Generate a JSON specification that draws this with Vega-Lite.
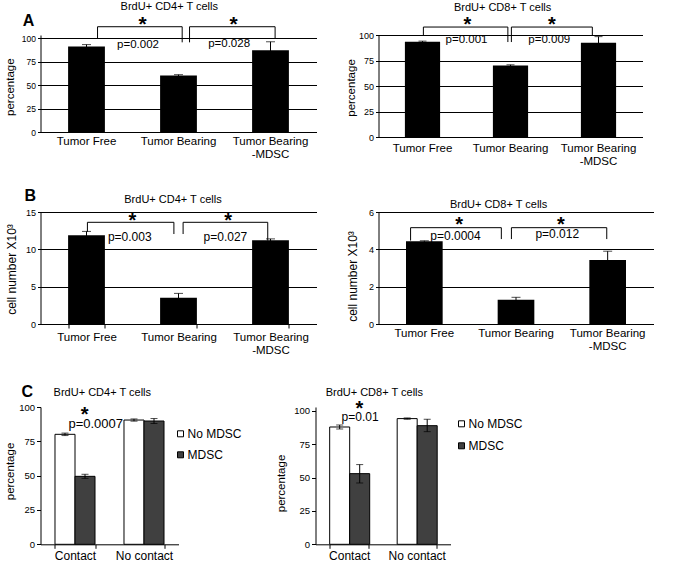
{
 "$schema": "https://vega.github.io/schema/vega-lite/v6.json",
 "autosize": {"type": "pad"},
 "padding": {"left": 4.5, "top": 0, "right": 0, "bottom": 0},
 "config": {
  "font": "Liberation Sans",
  "view": {"stroke": null},
  "text": {"color": "black"},
  "axis": {"domainColor": "black", "tickColor": "black", "labelColor": "black", "titleColor": "black", "titleFontWeight": "normal", "gridColor": "black"},
  "axisY": {"titleBaseline": "alphabetic"}
 },
 "columns": 3,
 "align": "each",
 "bounds": "flush",
 "spacing": {"row": 75, "column": 0},
 "resolve": {"scale": {"color": "independent"}},
 "concat": [
  {
   "width": 276, "height": 97,
   "resolve": {"scale": {"x": "independent"}},
   "layer": [
    {
     "data": {"values": [
      {"cat": "Tumor Free", "value": 91, "lo": 89, "hi": 93},
      {"cat": "Tumor Bearing", "value": 60, "lo": 59, "hi": 61},
      {"cat": "Tumor Bearing -MDSC", "value": 87, "lo": 78, "hi": 96}
     ]},
     "encoding": {"x": {"field": "cat", "type": "nominal", "sort": null, "scale": {"paddingInner": 0.6, "paddingOuter": 0.3},
       "axis": {"title": null, "ticks": false, "labelAngle": 0, "labelFontSize": 11.5, "labelPadding": 3, "labelLineHeight": 13, "labelOverlap": false,
         "labelExpr": "datum.value == 'Tumor Bearing -MDSC' ? ['Tumor Bearing', '-MDSC'] : datum.label"}}},
     "layer": [
      {"mark": {"type": "bar", "fill": "black"},
       "encoding": {"y": {"field": "value", "type": "quantitative", "scale": {"domain": [0, 103.2], "nice": false},
         "axis": {"title": "percentage", "values": [0, 25, 50, 75, 100], "grid": true, "tickSize": 3, "labelFontSize": 8.5, "labelPadding": 2, "titleFontSize": 11.5, "titleX": -27, "titleY": 51.7}}}},
      {"mark": {"type": "rule", "color": "black"},
       "encoding": {"y": {"field": "lo", "type": "quantitative", "scale": {"domain": [0, 103.2], "nice": false},
         "axis": {"title": "percentage", "values": [0, 25, 50, 75, 100], "grid": true, "tickSize": 3, "labelFontSize": 8.5, "labelPadding": 2, "titleFontSize": 11.5, "titleX": -27, "titleY": 51.7}}, "y2": {"field": "hi"}}},
      {"mark": {"type": "tick", "color": "black", "size": 9, "thickness": 1},
       "encoding": {"y": {"field": "hi", "type": "quantitative", "scale": {"domain": [0, 103.2], "nice": false},
         "axis": {"title": "percentage", "values": [0, 25, 50, 75, 100], "grid": true, "tickSize": 3, "labelFontSize": 8.5, "labelPadding": 2, "titleFontSize": 11.5, "titleX": -27, "titleY": 51.7}}}}
     ]
    },
    {
     "encoding": {"x": {"field": "u", "type": "quantitative", "scale": {"domain": [0, 3], "nice": false, "zero": false}, "axis": null},
                  "y": {"field": "v", "type": "quantitative", "scale": {"domain": [0, 103.2], "nice": false},
                    "axis": {"title": "percentage", "values": [0, 25, 50, 75, 100], "grid": true, "tickSize": 3, "labelFontSize": 8.5, "labelPadding": 2, "titleFontSize": 11.5, "titleX": -27, "titleY": 51.7}}},
     "layer": [
      {"data": {"values": [
        {"b": 1, "k": 1, "u": 0.62, "v": 100}, {"b": 1, "k": 2, "u": 0.62, "v": 112}, {"b": 1, "k": 3, "u": 1.54, "v": 112}, {"b": 1, "k": 4, "u": 1.54, "v": 95.4},
        {"b": 2, "k": 1, "u": 1.62, "v": 95.4}, {"b": 2, "k": 2, "u": 1.62, "v": 112}, {"b": 2, "k": 3, "u": 2.55, "v": 112}, {"b": 2, "k": 4, "u": 2.55, "v": 100}]},
       "mark": {"type": "line", "color": "black", "strokeWidth": 1},
       "encoding": {"detail": {"field": "b", "type": "nominal"}, "order": {"field": "k", "type": "quantitative"}}},
      {"data": {"values": [{"u": 1.11, "v": 113.8, "t": "*"}, {"u": 2.10, "v": 113.8, "t": "*"}]},
       "mark": {"type": "text", "fontSize": 21, "fontWeight": "bold", "baseline": "middle"},
       "encoding": {"text": {"field": "t", "type": "nominal"}}},
      {"data": {"values": [{"u": 1.06, "v": 92.6, "t": "p=0.002"}, {"u": 2.05, "v": 93.6, "t": "p=0.028"}]},
       "mark": {"type": "text", "fontSize": 11.5, "baseline": "middle"},
       "encoding": {"text": {"field": "t", "type": "nominal"}}},
      {"data": {"values": [{"u": 1.40, "v": 133, "t": "BrdU+ CD4+ T cells"}]},
       "mark": {"type": "text", "fontSize": 11, "baseline": "middle"},
       "encoding": {"text": {"field": "t", "type": "nominal"}}},
      {"data": {"values": [{"u": -0.13, "v": 118.1, "t": "A"}]},
       "mark": {"type": "text", "fontSize": 16, "fontWeight": "bold", "baseline": "middle"},
       "encoding": {"text": {"field": "t", "type": "nominal"}}}
     ]
    }
   ]
  },
  {"width": 62, "height": 1, "data": {"values": []}, "mark": "point"},
  {
   "width": 264, "height": 102,
   "resolve": {"scale": {"x": "independent"}},
   "layer": [
    {
     "data": {"values": [
      {"cat": "Tumor Free", "value": 93.3, "lo": 92.6, "hi": 94},
      {"cat": "Tumor Bearing", "value": 70.2, "lo": 69.6, "hi": 70.8},
      {"cat": "Tumor Bearing -MDSC", "value": 92.4, "lo": 86.4, "hi": 98.4}
     ]},
     "encoding": {"x": {"field": "cat", "type": "nominal", "sort": null, "scale": {"paddingInner": 0.6, "paddingOuter": 0.3},
       "axis": {"title": null, "ticks": false, "labelAngle": 0, "labelFontSize": 11.5, "labelPadding": 5, "labelLineHeight": 13, "labelOverlap": false,
         "labelExpr": "datum.value == 'Tumor Bearing -MDSC' ? ['Tumor Bearing', '-MDSC'] : datum.label"}}},
     "layer": [
      {"mark": {"type": "bar", "fill": "black"},
       "encoding": {"y": {"field": "value", "type": "quantitative", "scale": {"domain": [0, 100], "nice": false},
         "axis": {"title": "percentage", "values": [0, 25, 50, 75, 100], "grid": true, "tickSize": 3, "labelFontSize": 9, "labelPadding": 2, "titleFontSize": 11.5, "titleX": -24, "titleY": 52.5}}}},
      {"mark": {"type": "rule", "color": "black"},
       "encoding": {"y": {"field": "lo", "type": "quantitative", "scale": {"domain": [0, 100], "nice": false},
         "axis": {"title": "percentage", "values": [0, 25, 50, 75, 100], "grid": true, "tickSize": 3, "labelFontSize": 9, "labelPadding": 2, "titleFontSize": 11.5, "titleX": -24, "titleY": 52.5}}, "y2": {"field": "hi"}}},
      {"mark": {"type": "tick", "color": "black", "size": 8, "thickness": 1},
       "encoding": {"y": {"field": "hi", "type": "quantitative", "scale": {"domain": [0, 100], "nice": false},
         "axis": {"title": "percentage", "values": [0, 25, 50, 75, 100], "grid": true, "tickSize": 3, "labelFontSize": 9, "labelPadding": 2, "titleFontSize": 11.5, "titleX": -24, "titleY": 52.5}}}}
     ]
    },
    {
     "encoding": {"x": {"field": "u", "type": "quantitative", "scale": {"domain": [0, 3], "nice": false, "zero": false}, "axis": null},
                  "y": {"field": "v", "type": "quantitative", "scale": {"domain": [0, 100], "nice": false},
                    "axis": {"title": "percentage", "values": [0, 25, 50, 75, 100], "grid": true, "tickSize": 3, "labelFontSize": 9, "labelPadding": 2, "titleFontSize": 11.5, "titleX": -24, "titleY": 52.5}}},
     "layer": [
      {"data": {"values": [
        {"b": 1, "k": 1, "u": 0.51, "v": 100}, {"b": 1, "k": 2, "u": 0.51, "v": 107.8}, {"b": 1, "k": 3, "u": 1.47, "v": 107.8}, {"b": 1, "k": 4, "u": 1.47, "v": 93.1},
        {"b": 2, "k": 1, "u": 1.51, "v": 93.1}, {"b": 2, "k": 2, "u": 1.51, "v": 107.8}, {"b": 2, "k": 3, "u": 2.43, "v": 107.8}, {"b": 2, "k": 4, "u": 2.43, "v": 100}]},
       "mark": {"type": "line", "color": "black", "strokeWidth": 1},
       "encoding": {"detail": {"field": "b", "type": "nominal"}, "order": {"field": "k", "type": "quantitative"}}},
      {"data": {"values": [{"u": 1.01, "v": 109.8, "t": "*"}, {"u": 1.97, "v": 109.8, "t": "*"}]},
       "mark": {"type": "text", "fontSize": 20, "fontWeight": "bold", "baseline": "middle"},
       "encoding": {"text": {"field": "t", "type": "nominal"}}},
      {"data": {"values": [{"u": 1.00, "v": 95.1, "t": "p=0.001"}, {"u": 1.94, "v": 95.1, "t": "p=0.009"}]},
       "mark": {"type": "text", "fontSize": 11.5, "baseline": "middle"},
       "encoding": {"text": {"field": "t", "type": "nominal"}}},
      {"data": {"values": [{"u": 1.41, "v": 126.5, "t": "BrdU+ CD8+ T cells"}]},
       "mark": {"type": "text", "fontSize": 11, "baseline": "middle"},
       "encoding": {"text": {"field": "t", "type": "nominal"}}}
     ]
    }
   ]
  },
  {
   "width": 276, "height": 112,
   "resolve": {"scale": {"x": "independent"}},
   "layer": [
    {
     "data": {"values": [
      {"cat": "Tumor Free", "value": 11.9, "lo": 11.4, "hi": 12.4},
      {"cat": "Tumor Bearing", "value": 3.5, "lo": 2.9, "hi": 4.1},
      {"cat": "Tumor Bearing -MDSC", "value": 11.2, "lo": 11.0, "hi": 11.4}
     ]},
     "encoding": {"x": {"field": "cat", "type": "nominal", "sort": null, "scale": {"paddingInner": 0.6, "paddingOuter": 0.3},
       "axis": {"title": null, "ticks": true, "tickBand": "extent", "tickSize": 4, "labelAngle": 0, "labelFontSize": 11.5, "labelPadding": 3, "labelLineHeight": 13, "labelOverlap": false,
         "labelExpr": "datum.value == 'Tumor Bearing -MDSC' ? ['Tumor Bearing', '-MDSC'] : datum.label"}}},
     "layer": [
      {"mark": {"type": "bar", "fill": "black"},
       "encoding": {"y": {"field": "value", "type": "quantitative", "scale": {"domain": [0, 15], "nice": false},
         "axis": {"title": "cell number X10³", "values": [0, 5, 10, 15], "grid": true, "tickSize": 3, "labelFontSize": 9, "labelPadding": 2, "titleFontSize": 12, "titleX": -25, "titleY": 57}}}},
      {"mark": {"type": "rule", "color": "black"},
       "encoding": {"y": {"field": "lo", "type": "quantitative", "scale": {"domain": [0, 15], "nice": false},
         "axis": {"title": "cell number X10³", "values": [0, 5, 10, 15], "grid": true, "tickSize": 3, "labelFontSize": 9, "labelPadding": 2, "titleFontSize": 12, "titleX": -25, "titleY": 57}}, "y2": {"field": "hi"}}},
      {"mark": {"type": "tick", "color": "black", "size": 9, "thickness": 1},
       "encoding": {"y": {"field": "hi", "type": "quantitative", "scale": {"domain": [0, 15], "nice": false},
         "axis": {"title": "cell number X10³", "values": [0, 5, 10, 15], "grid": true, "tickSize": 3, "labelFontSize": 9, "labelPadding": 2, "titleFontSize": 12, "titleX": -25, "titleY": 57}}}}
     ]
    },
    {
     "encoding": {"x": {"field": "u", "type": "quantitative", "scale": {"domain": [0, 3], "nice": false, "zero": false}, "axis": null},
                  "y": {"field": "v", "type": "quantitative", "scale": {"domain": [0, 15], "nice": false},
                    "axis": {"title": "cell number X10³", "values": [0, 5, 10, 15], "grid": true, "tickSize": 3, "labelFontSize": 9, "labelPadding": 2, "titleFontSize": 12, "titleX": -25, "titleY": 57}}},
     "layer": [
      {"data": {"values": [
        {"b": 1, "k": 1, "u": 0.51, "v": 12.36}, {"b": 1, "k": 2, "u": 0.51, "v": 13.62}, {"b": 1, "k": 3, "u": 1.45, "v": 13.62}, {"b": 1, "k": 4, "u": 1.45, "v": 12.05},
        {"b": 2, "k": 1, "u": 1.55, "v": 12.05}, {"b": 2, "k": 2, "u": 1.55, "v": 13.62}, {"b": 2, "k": 3, "u": 2.47, "v": 13.62}, {"b": 2, "k": 4, "u": 2.47, "v": 11.16}]},
       "mark": {"type": "line", "color": "black", "strokeWidth": 1},
       "encoding": {"detail": {"field": "b", "type": "nominal"}, "order": {"field": "k", "type": "quantitative"}}},
      {"data": {"values": [{"u": 1.0, "v": 13.79, "t": "*"}, {"u": 2.04, "v": 13.79, "t": "*"}]},
       "mark": {"type": "text", "fontSize": 20, "fontWeight": "bold", "baseline": "middle"},
       "encoding": {"text": {"field": "t", "type": "nominal"}}},
      {"data": {"values": [{"u": 0.97, "v": 11.65, "t": "p=0.003"}, {"u": 2.01, "v": 11.65, "t": "p=0.027"}]},
       "mark": {"type": "text", "fontSize": 12, "baseline": "middle"},
       "encoding": {"text": {"field": "t", "type": "nominal"}}},
      {"data": {"values": [{"u": 1.44, "v": 16.6, "t": "BrdU+ CD4+ T cells"}]},
       "mark": {"type": "text", "fontSize": 11, "baseline": "middle"},
       "encoding": {"text": {"field": "t", "type": "nominal"}}},
      {"data": {"values": [{"u": -0.11, "v": 17.1, "t": "B"}]},
       "mark": {"type": "text", "fontSize": 16, "fontWeight": "bold", "baseline": "middle"},
       "encoding": {"text": {"field": "t", "type": "nominal"}}}
     ]
    }
   ]
  },
  {"width": 62, "height": 119.7, "data": {"values": []}, "mark": "point"},
  {
   "width": 275, "height": 112,
   "resolve": {"scale": {"x": "independent"}},
   "layer": [
    {
     "data": {"values": [
      {"cat": "Tumor Free", "value": 4.43, "lo": 4.4, "hi": 4.46},
      {"cat": "Tumor Bearing", "value": 1.3, "lo": 1.17, "hi": 1.43},
      {"cat": "Tumor Bearing -MDSC", "value": 3.43, "lo": 2.96, "hi": 3.9}
     ]},
     "encoding": {"x": {"field": "cat", "type": "nominal", "sort": null, "scale": {"paddingInner": 0.6, "paddingOuter": 0.3},
       "axis": {"title": null, "ticks": false, "labelAngle": 0, "labelFontSize": 11.5, "labelPadding": 3, "labelLineHeight": 13, "labelOverlap": false,
         "labelExpr": "datum.value == 'Tumor Bearing -MDSC' ? ['Tumor Bearing', '-MDSC'] : datum.label"}}},
     "layer": [
      {"mark": {"type": "bar", "fill": "black"},
       "encoding": {"y": {"field": "value", "type": "quantitative", "scale": {"domain": [0, 6], "nice": false},
         "axis": {"title": "cell number X10³", "values": [0, 2, 4, 6], "grid": true, "tickSize": 3, "labelFontSize": 9, "labelPadding": 2, "titleFontSize": 12, "titleX": -22, "titleY": 64}}}},
      {"mark": {"type": "rule", "color": "black"},
       "encoding": {"y": {"field": "lo", "type": "quantitative", "scale": {"domain": [0, 6], "nice": false},
         "axis": {"title": "cell number X10³", "values": [0, 2, 4, 6], "grid": true, "tickSize": 3, "labelFontSize": 9, "labelPadding": 2, "titleFontSize": 12, "titleX": -22, "titleY": 64}}, "y2": {"field": "hi"}}},
      {"mark": {"type": "tick", "color": "black", "size": 9, "thickness": 1},
       "encoding": {"y": {"field": "hi", "type": "quantitative", "scale": {"domain": [0, 6], "nice": false},
         "axis": {"title": "cell number X10³", "values": [0, 2, 4, 6], "grid": true, "tickSize": 3, "labelFontSize": 9, "labelPadding": 2, "titleFontSize": 12, "titleX": -22, "titleY": 64}}}}
     ]
    },
    {
     "encoding": {"x": {"field": "u", "type": "quantitative", "scale": {"domain": [0, 3], "nice": false, "zero": false}, "axis": null},
                  "y": {"field": "v", "type": "quantitative", "scale": {"domain": [0, 6], "nice": false},
                    "axis": {"title": "cell number X10³", "values": [0, 2, 4, 6], "grid": true, "tickSize": 3, "labelFontSize": 9, "labelPadding": 2, "titleFontSize": 12, "titleX": -22, "titleY": 64}}},
     "layer": [
      {"data": {"values": [
        {"b": 1, "k": 1, "u": 0.35, "v": 4.47}, {"b": 1, "k": 2, "u": 0.35, "v": 5.16}, {"b": 1, "k": 3, "u": 1.34, "v": 5.16}, {"b": 1, "k": 4, "u": 1.34, "v": 4.55},
        {"b": 2, "k": 1, "u": 1.45, "v": 4.55}, {"b": 2, "k": 2, "u": 1.45, "v": 5.16}, {"b": 2, "k": 3, "u": 2.49, "v": 5.16}, {"b": 2, "k": 4, "u": 2.49, "v": 4.55}]},
       "mark": {"type": "line", "color": "black", "strokeWidth": 1},
       "encoding": {"detail": {"field": "b", "type": "nominal"}, "order": {"field": "k", "type": "quantitative"}}},
      {"data": {"values": [{"u": 0.88, "v": 5.32, "t": "*"}, {"u": 1.99, "v": 5.32, "t": "*"}]},
       "mark": {"type": "text", "fontSize": 20, "fontWeight": "bold", "baseline": "middle"},
       "encoding": {"text": {"field": "t", "type": "nominal"}}},
      {"data": {"values": [{"u": 0.84, "v": 4.71, "t": "p=0.0004"}, {"u": 1.95, "v": 4.82, "t": "p=0.012"}]},
       "mark": {"type": "text", "fontSize": 12, "baseline": "middle"},
       "encoding": {"text": {"field": "t", "type": "nominal"}}},
      {"data": {"values": [{"u": 1.31, "v": 6.37, "t": "BrdU+ CD8+ T cells"}]},
       "mark": {"type": "text", "fontSize": 11, "baseline": "middle"},
       "encoding": {"text": {"field": "t", "type": "nominal"}}}
     ]
    }
   ]
  },
  {
   "bounds": "flush",
   "spacing": 137,
   "resolve": {"scale": {"color": "independent"}},
   "hconcat": [
    {
     "width": 138, "height": 137.3,
     "resolve": {"scale": {"x": "independent"}},
     "layer": [
      {
       "data": {"values": [
        {"grp": "Contact", "series": "No MDSC", "value": 80.1, "lo": 79.2, "hi": 81},
        {"grp": "Contact", "series": "MDSC", "value": 49.5, "lo": 48, "hi": 51},
        {"grp": "No contact", "series": "No MDSC", "value": 90.5, "lo": 89.7, "hi": 91.3},
        {"grp": "No contact", "series": "MDSC", "value": 89.8, "lo": 88, "hi": 91.6}
       ]},
       "encoding": {
        "x": {"field": "grp", "type": "nominal", "sort": null, "scale": {"paddingInner": 0.42, "paddingOuter": 0.21},
          "axis": {"title": null, "tickBand": "extent", "tickSize": 4, "labelAngle": 0, "labelFontSize": 12, "labelPadding": 2}},
        "xOffset": {"field": "series", "type": "nominal", "sort": ["No MDSC", "MDSC"]}
       },
       "layer": [
        {"mark": {"type": "bar", "stroke": "black", "strokeWidth": 1},
         "encoding": {
          "y": {"field": "value", "type": "quantitative", "scale": {"domain": [0, 100], "nice": false},
            "axis": {"title": "percentage", "values": [0, 25, 50, 75, 100], "grid": false, "tickSize": 4, "labelFontSize": 9.5, "labelPadding": 2, "titleFontSize": 11.5, "titleX": -27, "titleY": 64}},
          "color": {"field": "series", "type": "nominal", "sort": ["No MDSC", "MDSC"], "scale": {"domain": ["No MDSC", "MDSC"], "range": ["white", "#404040"]},
            "legend": {"title": null, "orient": "none", "legendX": 134, "legendY": 20.8, "symbolType": "square", "symbolSize": 36, "symbolStrokeColor": "black", "symbolStrokeWidth": 1, "labelFontSize": 12, "labelColor": "black", "labelOffset": 1, "rowPadding": 9}}
         }},
        {"mark": {"type": "rule", "color": "black"},
         "encoding": {"y": {"field": "lo", "type": "quantitative", "scale": {"domain": [0, 100], "nice": false},
           "axis": {"title": "percentage", "values": [0, 25, 50, 75, 100], "grid": false, "tickSize": 4, "labelFontSize": 9.5, "labelPadding": 2, "titleFontSize": 11.5, "titleX": -27, "titleY": 64}}, "y2": {"field": "hi"}}},
        {"mark": {"type": "tick", "color": "black", "size": 7, "thickness": 1},
         "encoding": {"y": {"field": "lo", "type": "quantitative", "scale": {"domain": [0, 100], "nice": false},
           "axis": {"title": "percentage", "values": [0, 25, 50, 75, 100], "grid": false, "tickSize": 4, "labelFontSize": 9.5, "labelPadding": 2, "titleFontSize": 11.5, "titleX": -27, "titleY": 64}}}},
        {"mark": {"type": "tick", "color": "black", "size": 7, "thickness": 1},
         "encoding": {"y": {"field": "hi", "type": "quantitative", "scale": {"domain": [0, 100], "nice": false},
           "axis": {"title": "percentage", "values": [0, 25, 50, 75, 100], "grid": false, "tickSize": 4, "labelFontSize": 9.5, "labelPadding": 2, "titleFontSize": 11.5, "titleX": -27, "titleY": 64}}}}
       ]
      },
      {
       "encoding": {"x": {"field": "u", "type": "quantitative", "scale": {"domain": [0, 2], "nice": false, "zero": false}, "axis": null},
                    "y": {"field": "v", "type": "quantitative", "scale": {"domain": [0, 100], "nice": false},
                      "axis": {"title": "percentage", "values": [0, 25, 50, 75, 100], "grid": false, "tickSize": 4, "labelFontSize": 9.5, "labelPadding": 2, "titleFontSize": 11.5, "titleX": -27, "titleY": 64}}},
       "layer": [
        {"data": {"values": [{"u": 0.64, "v": 94.2, "t": "*"}]},
         "mark": {"type": "text", "fontSize": 20, "fontWeight": "bold", "baseline": "middle"},
         "encoding": {"text": {"field": "t", "type": "nominal"}}},
        {"data": {"values": [{"u": 0.80, "v": 87.4, "t": "p=0.0007"}]},
         "mark": {"type": "text", "fontSize": 13, "baseline": "middle"},
         "encoding": {"text": {"field": "t", "type": "nominal"}}},
        {"data": {"values": [{"u": 0.19, "v": 110.0, "t": "BrdU+ CD4+ T cells"}]},
         "mark": {"type": "text", "fontSize": 11, "baseline": "middle", "align": "left"},
         "encoding": {"text": {"field": "t", "type": "nominal"}}},
        {"data": {"values": [{"u": -0.19, "v": 110.7, "t": "C"}]},
         "mark": {"type": "text", "fontSize": 16, "fontWeight": "bold", "baseline": "middle"},
         "encoding": {"text": {"field": "t", "type": "nominal"}}}
       ]
      }
     ]
    },
    {
     "width": 135, "height": 137.3,
     "resolve": {"scale": {"x": "independent"}},
     "layer": [
      {
       "data": {"values": [
        {"grp": "Contact", "series": "No MDSC", "value": 88, "lo": 86.5, "hi": 89.5},
        {"grp": "Contact", "series": "MDSC", "value": 53, "lo": 46, "hi": 59.8},
        {"grp": "No contact", "series": "No MDSC", "value": 94.3, "lo": 93.8, "hi": 94.8},
        {"grp": "No contact", "series": "MDSC", "value": 89, "lo": 84.5, "hi": 93.8}
       ]},
       "encoding": {
        "x": {"field": "grp", "type": "nominal", "sort": null, "scale": {"paddingInner": 0.42, "paddingOuter": 0.21},
          "axis": {"title": null, "tickBand": "extent", "tickSize": 4, "labelAngle": 0, "labelFontSize": 12, "labelPadding": 2}},
        "xOffset": {"field": "series", "type": "nominal", "sort": ["No MDSC", "MDSC"]}
       },
       "layer": [
        {"mark": {"type": "bar", "stroke": "black", "strokeWidth": 1},
         "encoding": {
          "y": {"field": "value", "type": "quantitative", "scale": {"domain": [0, 103], "nice": false},
            "axis": {"title": "percentage", "values": [0, 25, 50, 75, 100], "grid": false, "tickSize": 4, "labelFontSize": 9.5, "labelPadding": 2, "titleFontSize": 11.5, "titleX": -31, "titleY": 76}},
          "color": {"field": "series", "type": "nominal", "sort": ["No MDSC", "MDSC"], "scale": {"domain": ["No MDSC", "MDSC"], "range": ["white", "#404040"]},
            "legend": {"title": null, "orient": "none", "legendX": 140, "legendY": 10.8, "symbolType": "square", "symbolSize": 36, "symbolStrokeColor": "black", "symbolStrokeWidth": 1, "labelFontSize": 12, "labelColor": "black", "labelOffset": 1, "rowPadding": 10}}
         }},
        {"mark": {"type": "rule", "color": "black"},
         "encoding": {"y": {"field": "lo", "type": "quantitative", "scale": {"domain": [0, 103], "nice": false},
           "axis": {"title": "percentage", "values": [0, 25, 50, 75, 100], "grid": false, "tickSize": 4, "labelFontSize": 9.5, "labelPadding": 2, "titleFontSize": 11.5, "titleX": -31, "titleY": 76}}, "y2": {"field": "hi"}}},
        {"mark": {"type": "tick", "color": "black", "size": 7, "thickness": 1},
         "encoding": {"y": {"field": "lo", "type": "quantitative", "scale": {"domain": [0, 103], "nice": false},
           "axis": {"title": "percentage", "values": [0, 25, 50, 75, 100], "grid": false, "tickSize": 4, "labelFontSize": 9.5, "labelPadding": 2, "titleFontSize": 11.5, "titleX": -31, "titleY": 76}}}},
        {"mark": {"type": "tick", "color": "black", "size": 7, "thickness": 1},
         "encoding": {"y": {"field": "hi", "type": "quantitative", "scale": {"domain": [0, 103], "nice": false},
           "axis": {"title": "percentage", "values": [0, 25, 50, 75, 100], "grid": false, "tickSize": 4, "labelFontSize": 9.5, "labelPadding": 2, "titleFontSize": 11.5, "titleX": -31, "titleY": 76}}}}
       ]
      },
      {
       "encoding": {"x": {"field": "u", "type": "quantitative", "scale": {"domain": [0, 2], "nice": false, "zero": false}, "axis": null},
                    "y": {"field": "v", "type": "quantitative", "scale": {"domain": [0, 103], "nice": false},
                      "axis": {"title": "percentage", "values": [0, 25, 50, 75, 100], "grid": false, "tickSize": 4, "labelFontSize": 9.5, "labelPadding": 2, "titleFontSize": 11.5, "titleX": -31, "titleY": 76}}},
       "layer": [
        {"data": {"values": [{"u": 0.65, "v": 101.5, "t": "*"}]},
         "mark": {"type": "text", "fontSize": 20, "fontWeight": "bold", "baseline": "middle"},
         "encoding": {"text": {"field": "t", "type": "nominal"}}},
        {"data": {"values": [{"u": 0.66, "v": 95.5, "t": "p=0.01"}]},
         "mark": {"type": "text", "fontSize": 12, "baseline": "middle"},
         "encoding": {"text": {"field": "t", "type": "nominal"}}},
        {"data": {"values": [{"u": 0.15, "v": 113.3, "t": "BrdU+ CD8+ T cells"}]},
         "mark": {"type": "text", "fontSize": 11, "baseline": "middle", "align": "left"},
         "encoding": {"text": {"field": "t", "type": "nominal"}}}
       ]
      }
     ]
    }
   ]
  }
 ]
}
